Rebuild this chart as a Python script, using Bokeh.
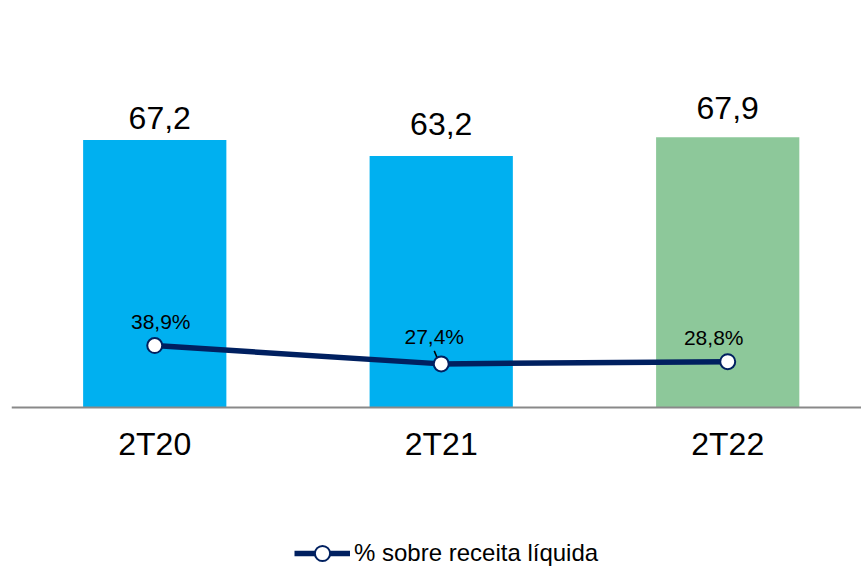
from bokeh.plotting import figure
from bokeh.models import Range1d, Legend, LegendItem, ColumnDataSource, Span
from bokeh.core.properties import value
from bokeh.embed import file_html
from bokeh.resources import INLINE

# ---- data ----
categories = ["2T20", "2T21", "2T22"]
valores = [67.2, 63.2, 67.9]
percentual = [38.9, 27.4, 28.8]
serie_label = "% sobre receita líquida"

# ---- styles ----
bar_colors = ["#00B0F0", "#00B0F0", "#8DC89A"]
navy = "#002060"
FONT = "Liberation Sans"
bar_dx = [5, 0, 0]
bar_dy = [-22, -32, -29]
pct_dx = [6, -7, -14]
pct_dy = [-24, -27, -24]

# ---- layout ----
W, H = 861, 569
LEFT, TOP = 11, 9
PLOT_H = 398            # pixels from 0 to 100 on the bar axis
BELOW = H - TOP - PLOT_H  # pixels below the baseline
X0, X1 = -0.5, 2.467
Y_MAX, Y2_MAX = 100, 250
px_y = PLOT_H / Y_MAX
px_y2 = PLOT_H / Y2_MAX
px_x = (W - LEFT) / (X1 - X0)

x = list(range(len(categories)))
fmt = lambda v: f"{v:.1f}".replace(".", ",")

src = ColumnDataSource(dict(
    x=x, val=valores, pct=percentual, color=bar_colors, cat=categories,
    zero=[0] * len(x),
    val_lbl=[fmt(v) for v in valores],
    pct_lbl=[fmt(v) + "%" for v in percentual],
    bdx=bar_dx, bdy=bar_dy, pdx=pct_dx, pdy=pct_dy,
))

p = figure(width=W, height=H, title=None,
           x_range=Range1d(X0, X1), y_range=Range1d(-BELOW / px_y, Y_MAX),
           x_axis_location=None, y_axis_location=None,
           output_backend="svg", toolbar_location=None,
           min_border_left=LEFT, min_border_right=0, min_border_top=TOP,
           min_border_bottom=0)
p.extra_y_ranges = {"pct": Range1d(-BELOW / px_y2, Y2_MAX)}
p.grid.visible = False
p.outline_line_color = None
p.background_fill_color = "white"
p.border_fill_color = "white"

# bars
p.vbar(x="x", top="val", width=0.5, fill_color="color", line_color=None, source=src)

# baseline (category axis line)
p.add_layout(Span(location=0, dimension="width", line_color="#898989", line_width=2))

# category labels
p.text(x="x", y="zero", text="cat", y_offset=36, source=src,
       text_align="center", text_baseline="middle", text_color="black",
       text_font=value(FONT), text_font_size="32px")

# leader line for 2T21 label
i = 1
p.segment(x0=[x[i] + (-7) / px_x], y0=[percentual[i] + 13 / px_y2],
          x1=[x[i] - 1.5 / px_x], y1=[percentual[i]],
          y_range_name="pct", line_color="black", line_width=1.5)

# line + markers
line_r = p.line("x", "pct", source=src, y_range_name="pct",
                line_color=navy, line_width=5.5)
sc_r = p.scatter("x", "pct", source=src, y_range_name="pct", size=15,
                 fill_color="white", line_color=navy, line_width=2)

# labels
p.text(x="x", y="val", text="val_lbl", x_offset="bdx", y_offset="bdy", source=src,
       text_align="center", text_baseline="middle", text_color="black",
       text_font=value(FONT), text_font_size="32px")
p.text(x="x", y="pct", text="pct_lbl", x_offset="pdx", y_offset="pdy", source=src,
       y_range_name="pct",
       text_align="center", text_baseline="middle", text_color="black",
       text_font=value(FONT), text_font_size="21px")

legend = Legend(items=[LegendItem(label=serie_label, renderers=[line_r, sc_r])],
                location=(283, -3), orientation="horizontal",
                glyph_width=56, glyph_height=38, label_standoff=4,
                padding=0, margin=0, border_line_color=None,
                background_fill_alpha=0,
                label_text_font=FONT, label_text_font_size="24px",
                label_text_color="black")
p.add_layout(legend, "center")

open("out.html", "w").write(file_html(p, INLINE))
